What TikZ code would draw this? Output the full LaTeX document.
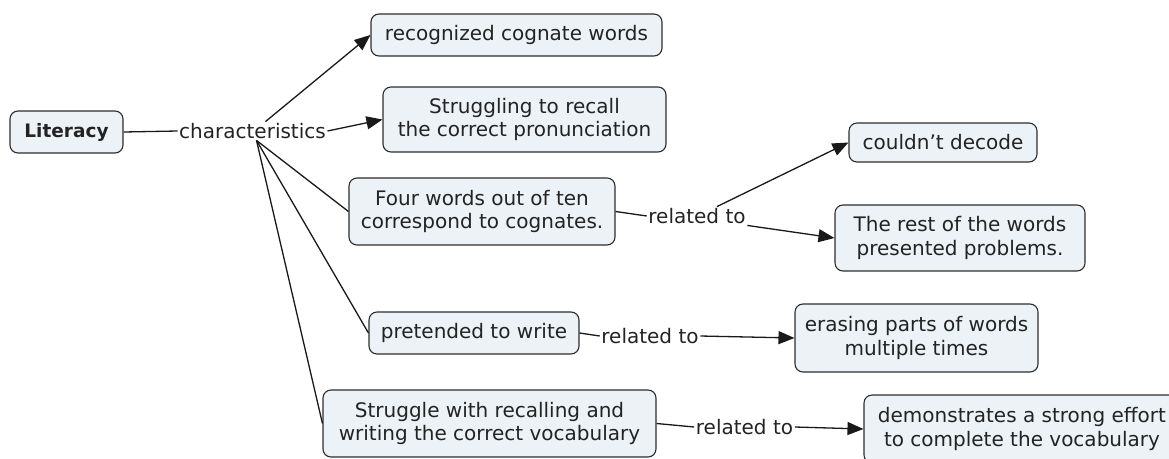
\documentclass[tikz,border=0pt]{standalone}
\usepackage{fontspec}
\setmainfont{DejaVu Sans}
\usetikzlibrary{arrows.meta}
\definecolor{conceptfill}{RGB}{236,242,245}
\definecolor{conceptline}{RGB}{45,45,45}
\definecolor{inktext}{RGB}{35,35,35}
\begin{document}
\begin{tikzpicture}[x=1pt,y=-1pt,
  concept/.style={draw=conceptline, fill=conceptfill, rounded corners=8pt,
    line width=1.1pt, align=center, text=inktext, inner sep=0pt,
    font=\fontsize{20}{23.5}\selectfont},
  linkword/.style={text=inktext, inner sep=1.5pt, font=\fontsize{20}{23.5}\selectfont},
  link/.style={draw=black!90, line width=1.3pt},
  arrowlink/.style={link, -{Triangle[length=16pt,width=13pt]}}]
\useasboundingbox (0,0) rectangle (1169,458);
\clip (0,0) rectangle (1169,458);

% concepts
\node[concept, minimum width=113pt, minimum height=42pt, font=\fontsize{18.5}{22}\selectfont\bfseries]
  (lit) at (66.5,132) {Literacy};
\node[concept, minimum width=291pt, minimum height=42pt] (rec) at (516.5,35) {recognized cognate words};
\node[concept, minimum width=283pt, minimum height=65pt] (strug) at (524.5,119.5)
  {Struggling to recall\\the correct pronunciation};
\node[concept, minimum width=266pt, minimum height=67pt] (four) at (482,211.5)
  {Four words out of ten\\correspond to cognates.};
\node[concept, minimum width=188pt, minimum height=39pt] (could) at (943,142.5) {couldn’t decode};
\node[concept, minimum width=250pt, minimum height=66pt] (rest) at (960,238)
  {The rest of the words\\presented problems.};
\node[concept, minimum width=210pt, minimum height=42pt] (pret) at (474,333) {pretended to write};
\node[concept, minimum width=243pt, minimum height=68pt] (eras) at (916.5,338)
  {erasing parts of words\\multiple times};
\node[concept, minimum width=333pt, minimum height=67pt] (strugw) at (489.5,423.5)
  {Struggle with recalling and\\writing the correct vocabulary};
\node[concept, minimum width=316pt, minimum height=68pt] (demo) at (1022,429)
  {demonstrates a strong effort\\to complete the vocabulary};

% linking phrases
\node[linkword] (chars) at (252.5,131) {characteristics};
\node[linkword] (rel1) at (697,216) {related to};
\node[linkword] (rel2) at (650,336) {related to};
\node[linkword] (rel3) at (744.5,427) {related to};

% connectors
\draw[link] (lit.east) -- (chars.west);
\draw[arrowlink] ([xshift=13pt]chars.north) -- (rec.west);
\draw[arrowlink] (chars.east) -- (strug.west);
\draw[link] ([xshift=4pt]chars.south) -- (four.west);
\draw[link] ([xshift=4pt]chars.south) -- (pret.west);
\draw[link] ([xshift=4pt]chars.south) -- (strugw.west);

\draw[link] (four.east) -- (rel1.west);
\draw[arrowlink] ([xshift=20pt]rel1.north) -- (could.west);
\draw[arrowlink] (rel1.south east) -- (rest.west);

\draw[link] (pret.east) -- (rel2.west);
\draw[arrowlink] (rel2.east) -- (eras.west);

\draw[link] (strugw.east) -- (rel3.west);
\draw[arrowlink] (rel3.east) -- (demo.west);
\end{tikzpicture}
\end{document}
